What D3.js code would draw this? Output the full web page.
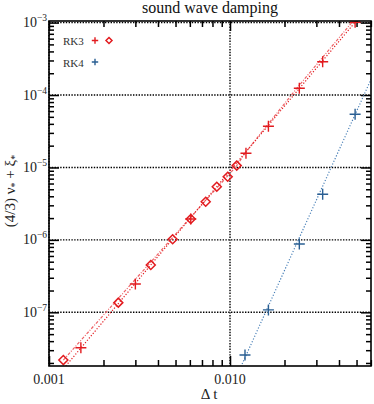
<!DOCTYPE html>
<html><head><meta charset="utf-8">
<script src="https://cdn.jsdelivr.net/npm/d3@7"></script>
<style>body{margin:0;background:#fff} svg{display:block}</style>
</head><body><svg id="c" width="374" height="404"></svg>
<script>
// ---- data ----
const rk3PlusDt  = [0.0015, 0.0030, 0.00607, 0.01225, 0.0163, 0.02415, 0.0325, 0.0491];
const rk3PlusVal = [3.24e-8, 2.46e-7, 1.94e-6, 1.57e-5, 3.70e-5, 1.24e-4, 2.88e-4, 1.01e-3];
const rk3DiamDt  = [0.0012, 0.002415, 0.00365, 0.00482, 0.00607, 0.00734, 0.00845, 0.00971, 0.01089];
const rk3DiamVal = [2.19e-8, 1.36e-7, 4.50e-7, 1.02e-6, 1.94e-6, 3.36e-6, 5.42e-6, 7.45e-6, 1.06e-5];
const rk4Dt  = [0.0121, 0.0163, 0.02415, 0.0325, 0.0491];
const rk4Val = [2.57e-8, 1.08e-7, 8.77e-7, 4.26e-6, 5.42e-5];
// guide lines
const rk3FitDt  = [0.00115, 0.0525];
const rk3FitVal = [1.46e-8, 1.235e-3];
const rk3CurveDt  = [0.0012, 0.01089, 0.0121, 0.02344, 0.0472, 0.0497];
const rk3CurveVal = [2.19e-8, 1.057e-5, 1.58e-5, 1.25e-4, 1.01e-3, 1.175e-3];
const rk4FitDt  = [0.0113, 0.062];
const rk4FitVal = [1.62e-8, 1.95e-4];
// axis ticks
const xMajor = [0.001, 0.01];
const xLabels = ["0.001", "0.010"];
const yMajorExp = [-3, -4, -5, -6, -7];
const title = "sound wave damping";

const W = 374, H = 404;
const m = {l: 49, r: 371, t: 21, b: 366};
const red = "#e21b1f", blue = "#2a5f93";

const x = d3.scaleLog().domain([0.001, 0.0601]).range([m.l, m.r]);
const y = d3.scaleLog().domain([1.815e-8, 1.052e-3]).range([m.b, m.t]);

const svg = d3.select("#c");
svg.append("defs").append("clipPath").attr("id", "clip")
  .append("rect").attr("x", m.l).attr("y", m.t).attr("width", m.r - m.l).attr("height", m.b - m.t);

// minor/major tick values
const xMinor = [], yMinor = [];
[0.001, 0.01].forEach(d => { for (let k = 2; k <= 9; k++) { const v = d * k; if (v <= x.domain()[1]) xMinor.push(v); } });
[1e-8, 1e-7, 1e-6, 1e-5, 1e-4].forEach(d => { for (let k = 2; k <= 9; k++) { const v = d * k; if (v >= y.domain()[0] && v <= y.domain()[1]) yMinor.push(v); } });
const yMajor = yMajorExp.map(e => Math.pow(10, e));

// grid
const grid = svg.append("g").attr("stroke", "#000").attr("stroke-width", 1.4).attr("stroke-dasharray", "1.4,1.4");
yMajor.forEach(v => grid.append("line").attr("x1", m.l).attr("x2", m.r).attr("y1", y(v)).attr("y2", y(v)));
xMajor.forEach(v => grid.append("line").attr("x1", x(v)).attr("x2", x(v)).attr("y1", m.t).attr("y2", m.b));

// axes ticks (inward) via d3 axes
function axis(gen, vals, size, tr) {
  svg.append("g").attr("transform", tr)
    .call(gen.tickValues(vals).tickSize(size).tickFormat(""))
    .call(g => g.select(".domain").remove())
    .call(g => g.selectAll(".tick line").attr("stroke", "#000").attr("stroke-width", 1.5));
}
axis(d3.axisBottom(x), xMinor, -6, `translate(0,${m.b})`);
axis(d3.axisBottom(x), xMajor, -10, `translate(0,${m.b})`);
axis(d3.axisTop(x), xMinor, -6, `translate(0,${m.t})`);
axis(d3.axisTop(x), xMajor, -10, `translate(0,${m.t})`);
axis(d3.axisLeft(y), yMinor, -5, `translate(${m.l},0)`);
axis(d3.axisLeft(y), yMajor, -10, `translate(${m.l},0)`);
axis(d3.axisRight(y), yMinor, -5, `translate(${m.r},0)`);
axis(d3.axisRight(y), yMajor, -10, `translate(${m.r},0)`);

// lines
const plot = svg.append("g").attr("clip-path", "url(#clip)");
const line = d3.line().x(d => x(d[0])).y(d => y(d[1]));
plot.append("path").datum(d3.zip(rk3CurveDt, rk3CurveVal)).attr("d", line)
  .attr("fill", "none").attr("stroke", "#ee6266").attr("stroke-width", 1.2).attr("stroke-dasharray", "3,1.5,1,1.5");
plot.append("path").datum(d3.zip(rk3FitDt, rk3FitVal)).attr("d", line)
  .attr("fill", "none").attr("stroke", red).attr("stroke-width", 1.2).attr("stroke-dasharray", "1.2,1.8");
plot.append("path").datum(d3.zip(rk4FitDt, rk4FitVal)).attr("d", line)
  .attr("fill", "none").attr("stroke", "#4a80b8").attr("stroke-width", 1.2).attr("stroke-dasharray", "1.2,1.8");

// markers
const plusPath = s => `M${-s},0H${s}M0,${-s}V${s}`;
const diamPath = s => `M0,${-s}L${s},0L0,${s}L${-s},0Z`;
plot.selectAll(".d3m").data(d3.zip(rk3DiamDt, rk3DiamVal)).join("path")
  .attr("transform", d => `translate(${x(d[0])},${y(d[1])})`).attr("d", diamPath(4.5))
  .attr("fill", "none").attr("stroke", red).attr("stroke-width", 1.5);
plot.selectAll(".p3m").data(d3.zip(rk3PlusDt, rk3PlusVal)).join("path")
  .attr("transform", d => `translate(${x(d[0])},${y(d[1])})`).attr("d", plusPath(5.5))
  .attr("fill", "none").attr("stroke", red).attr("stroke-width", 1.4);
plot.selectAll(".p4m").data(d3.zip(rk4Dt, rk4Val)).join("path")
  .attr("transform", d => `translate(${x(d[0])},${y(d[1])})`).attr("d", plusPath(5.5))
  .attr("fill", "none").attr("stroke", blue).attr("stroke-width", 1.4);

// frame
svg.append("rect").attr("x", m.l).attr("y", m.t).attr("width", m.r - m.l).attr("height", m.b - m.t)
  .attr("fill", "none").attr("stroke", "#000").attr("stroke-width", 1.6);

const font = "'Liberation Serif', 'Times New Roman', serif";
// x tick labels
xMajor.forEach((v, i) => svg.append("text").attr("x", x(v)).attr("y", 383.5)
  .attr("text-anchor", "middle").attr("font-family", font).attr("font-size", 14).attr("fill", "#222").text(xLabels[i]));
// y tick labels
yMajor.forEach((v, i) => {
  const t = svg.append("text").attr("x", 47).attr("y", y(v) + 4.5).attr("text-anchor", "end")
    .attr("font-family", font).attr("font-size", 14).attr("fill", "#222");
  t.append("tspan").text("10");
  t.append("tspan").attr("dy", -6).attr("font-size", 9.5).text("\u2212" + Math.abs(yMajorExp[i]));
});
// title
svg.append("text").attr("x", (m.l + m.r) / 2).attr("y", 13).attr("text-anchor", "middle")
  .attr("font-family", font).attr("font-size", 16).attr("fill", "#111").text(title);
// x label
svg.append("text").attr("x", 209).attr("y", 398.5).attr("text-anchor", "middle")
  .attr("font-family", font).attr("font-size", 15).attr("fill", "#222").text("\u0394 t");
// y label
const yl = svg.append("text").attr("transform", "translate(14.5,191) rotate(-90)").attr("text-anchor", "middle")
  .attr("font-family", font).attr("font-size", 15).attr("fill", "#222");
yl.append("tspan").text("(4/3) \u03bd");
yl.append("tspan").attr("dy", 3).attr("font-size", 10).text("*");
yl.append("tspan").attr("dy", -3).text(" + \u03be");
yl.append("tspan").attr("dy", 3).attr("font-size", 10).text("*");

// legend
const lg = svg.append("g").attr("font-family", font).attr("font-size", 11).attr("fill", "#333");
lg.append("text").attr("x", 63).attr("y", 44.5).text("RK3");
lg.append("text").attr("x", 63).attr("y", 66.5).text("RK4");
lg.append("path").attr("transform", "translate(95,40.5)").attr("d", plusPath(3.2)).attr("stroke", red).attr("stroke-width", 1.4).attr("fill", "none");
lg.append("path").attr("transform", "translate(109,40.5)").attr("d", diamPath(3)).attr("stroke", red).attr("stroke-width", 1.5).attr("fill", "none");
lg.append("path").attr("transform", "translate(95,62)").attr("d", plusPath(3.2)).attr("stroke", blue).attr("stroke-width", 1.4).attr("fill", "none");
</script></body></html>
